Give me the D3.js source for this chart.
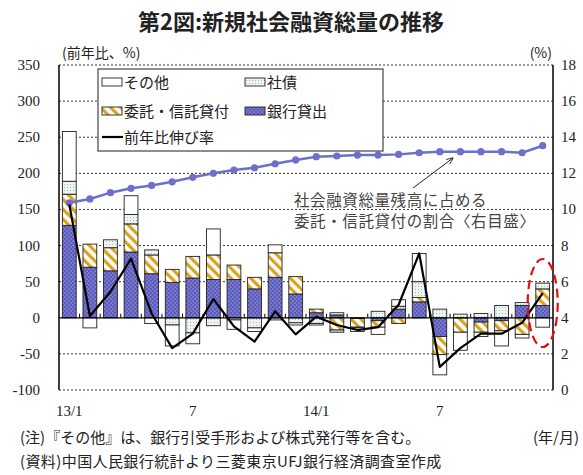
<!DOCTYPE html>
<html>
<head>
<meta charset="utf-8">
<script src="https://cdn.jsdelivr.net/npm/d3@7"></script>
<style>
  body { margin: 0; background: #fff; }
  text { font-family: "Noto Sans CJK JP", "Noto Sans", sans-serif; fill: #222; }
  text.num { font-family: "Liberation Serif", "DejaVu Serif", serif; }
</style>
</head>
<body>
<div id="chart"></div>
<script>
// months 2013/1 - 2014/12
const months = ["13/1","13/2","13/3","13/4","13/5","13/6","13/7","13/8","13/9","13/10","13/11","13/12",
                "14/1","14/2","14/3","14/4","14/5","14/6","14/7","14/8","14/9","14/10","14/11","14/12"];
const monthLabels = {"13/1": "13/1", "13/7": "7", "14/1": "14/1", "14/7": "7"};

// contributions to yoy growth (%pt)
const bank    = [128, 70, 65, 91, 61, 49, 55, 53, 53, 40, 56, 33, 7, 4, -1, -4, 12, 22, -26, 0, -6, -4, 17, 17];
const entrust = [43, 32, 32, 39, 26, 18, 30, 34, 20, 16, 34, 24, 5, -17, -12, -9, -8, 6, -25, -20, -14, -14, -23, 23];
const bond    = [18, 0, 11, 13, 7, -10, -21, -11, -3, -14, -3, -7, -8, -3, -1, 9, 4, 22, 12, 5, 6, 17, 4, 8];
const other   = [69, -14, 0, 26, -8, -29, -15, 36, -13, -5, 11, -3, -2, 3, -5, -10, 9, 39, -28, -25, -6, -21, -5, -13];

// yoy growth (%)
const growth = [157, 2.5, 36, 82, 6, -42, -22, 26, -12, -33, 9, -23, 1.5, -10, -17, -13, 18, 89, -68, -42, -22, -22, -7, 34];
// share of entrusted/trust loans in outstanding stock (%, right axis)
const share = [10.37, 10.58, 10.93, 11.17, 11.33, 11.53, 11.78, 12.0, 12.18, 12.31, 12.53, 12.74,
               12.92, 12.96, 13.01, 13.01, 13.05, 13.14, 13.2, 13.2, 13.2, 13.2, 13.14, 13.53];

const leftTicks = [350, 300, 250, 200, 150, 100, 50, 0, -50, -100];
const rightTicks = [18, 16, 14, 12, 10, 8, 6, 4, 2, 0];

const svg = d3.select("#chart").append("svg")
  .attr("width", 583)
  .attr("height", 475);

const plot = { left: 59, right: 553, top: 65, bottom: 390 };

const y = d3.scaleLinear().domain([-100, 350]).range([plot.bottom, plot.top]);
const yR = d3.scaleLinear().domain([0, 18]).range([plot.bottom, plot.top]);
const x = d3.scaleBand().domain(months)
  .range([plot.left, plot.right])
  .paddingInner(0.33).paddingOuter(0.165);

// patterns
const defs = svg.append("defs");

const pBank = defs.append("pattern").attr("id", "pBank")
  .attr("patternUnits", "userSpaceOnUse").attr("width", 4).attr("height", 4);
pBank.append("rect").attr("width", 4).attr("height", 4).attr("fill", "#5b5bbd");
pBank.append("circle").attr("cx", 1).attr("cy", 1).attr("r", 0.6).attr("fill", "#dcdcf5");
pBank.append("circle").attr("cx", 3).attr("cy", 3).attr("r", 0.6).attr("fill", "#dcdcf5");

const pEnt = defs.append("pattern").attr("id", "pEnt")
  .attr("patternUnits", "userSpaceOnUse").attr("width", 7).attr("height", 7)
  .attr("patternTransform", "rotate(-45)");
pEnt.append("rect").attr("width", 7).attr("height", 7).attr("fill", "#fff");
pEnt.append("rect").attr("width", 3.2).attr("height", 7).attr("fill", "#d9a21c");

const pBond = defs.append("pattern").attr("id", "pBond")
  .attr("patternUnits", "userSpaceOnUse").attr("width", 3).attr("height", 3);
pBond.append("rect").attr("width", 3).attr("height", 3).attr("fill", "#eef5f0");
pBond.append("rect").attr("x", 1).attr("y", 1).attr("width", 1).attr("height", 1).attr("fill", "#9fc0ad");

const fills = { bank: "url(#pBank)", entrust: "url(#pEnt)", bond: "url(#pBond)", other: "#fff" };

// title
svg.append("text")
  .attr("x", 291).attr("y", 30)
  .attr("text-anchor", "middle")
  .style("font-size", "22px").style("font-weight", "bold")
  .text("第2図:新規社会融資総量の推移");

// axis units
svg.append("text").attr("x", 62).attr("y", 58)
  .style("font-size", "14px").text("(前年比、%)");
svg.append("text").attr("x", 552).attr("y", 58)
  .attr("text-anchor", "end")
  .style("font-size", "14px").text("(%)");

// gridlines
svg.append("g").attr("class", "grid")
  .selectAll("line")
    .data(leftTicks.filter((d) => d !== 0)).enter()
  .append("line")
    .attr("x1", plot.left).attr("x2", plot.right)
    .attr("y1", (d) => y(d)).attr("y2", (d) => y(d))
    .attr("stroke", "#333").attr("stroke-width", 1)
    .attr("stroke-dasharray", "2,2");

// tick labels
svg.append("g")
  .selectAll("text")
    .data(leftTicks).enter()
  .append("text")
    .attr("class", "num")
    .attr("x", 40).attr("y", (d) => y(d) + 5)
    .attr("text-anchor", "end")
    .style("font-size", "15px")
    .text((d) => d);

svg.append("g")
  .selectAll("text")
    .data(rightTicks).enter()
  .append("text")
    .attr("class", "num")
    .attr("x", 561).attr("y", (d) => yR(d) + 5)
    .style("font-size", "15px")
    .text((d) => d);

// stacked bars
const rows = months.map((m, i) => ({
  month: m, bank: bank[i], entrust: entrust[i], bond: bond[i], other: other[i]
}));
const keys = ["bank", "entrust", "bond", "other"];
const series = d3.stack().keys(keys).offset(d3.stackOffsetDiverging)(rows);

svg.append("g").attr("class", "bars")
  .selectAll("g")
    .data(series).enter()
  .append("g")
    .attr("fill", (d) => fills[d.key])
  .selectAll("rect")
    .data((d) => d.filter((p) => p[1] !== p[0])).enter()
  .append("rect")
    .attr("x", (d) => x(d.data.month))
    .attr("width", x.bandwidth())
    .attr("y", (d) => y(Math.max(d[0], d[1])))
    .attr("height", (d) => Math.abs(y(d[0]) - y(d[1])))
    .attr("stroke", "#222").attr("stroke-width", 0.9);

// zero line + month ticks
svg.append("line")
  .attr("x1", plot.left).attr("x2", plot.right)
  .attr("y1", y(0)).attr("y2", y(0))
  .attr("stroke", "#000").attr("stroke-width", 1.2);

svg.append("g")
  .selectAll("line")
    .data(months.slice(1)).enter()
  .append("line")
    .attr("x1", (d) => x(d) - x.step() * x.paddingInner() / 2)
    .attr("x2", (d) => x(d) - x.step() * x.paddingInner() / 2)
    .attr("y1", y(0)).attr("y2", y(0) - 4)
    .attr("stroke", "#000");

// axes frame
svg.append("line").attr("x1", plot.left).attr("x2", plot.left)
  .attr("y1", plot.top).attr("y2", plot.bottom).attr("stroke", "#000").attr("stroke-width", 1.5);
svg.append("line").attr("x1", plot.right).attr("x2", plot.right)
  .attr("y1", plot.top).attr("y2", plot.bottom).attr("stroke", "#000").attr("stroke-width", 1.5);

// month labels
svg.append("g")
  .selectAll("text")
    .data(months.filter((m) => monthLabels[m])).enter()
  .append("text")
    .attr("class", "num")
    .attr("x", (d) => x(d) + x.bandwidth() / 2)
    .attr("y", 416)
    .attr("text-anchor", "middle")
    .style("font-size", "15px")
    .text((d) => monthLabels[d]);

// share line (right axis)
svg.append("path")
  .datum(share)
  .attr("fill", "none")
  .attr("stroke", "#6e6ecb").attr("stroke-width", 2.5)
  .attr("d", d3.line()
    .x((d, i) => x(months[i]) + x.bandwidth() / 2)
    .y((d) => yR(d)));

svg.append("g")
  .selectAll("circle")
    .data(share).enter()
  .append("circle")
    .attr("cx", (d, i) => x(months[i]) + x.bandwidth() / 2)
    .attr("cy", (d) => yR(d))
    .attr("r", 3.6)
    .attr("fill", "#6e6ecb");

// growth line (left axis)
svg.append("path")
  .datum(growth)
  .attr("fill", "none")
  .attr("stroke", "#000").attr("stroke-width", 2.2)
  .attr("stroke-linejoin", "round")
  .attr("d", d3.line()
    .x((d, i) => x(months[i]) + x.bandwidth() / 2)
    .y((d) => y(d)));

// legend
const legend = svg.append("g").attr("class", "legend");
legend.append("rect")
  .attr("x", 98).attr("y", 69).attr("width", 285).attr("height", 82)
  .attr("fill", "#fff").attr("stroke", "#444").attr("stroke-width", 1.2);

const legendItems = [
  { key: "other", label: "その他", lx: 102, ly: 82 },
  { key: "bond", label: "社債", lx: 245, ly: 82 },
  { key: "entrust", label: "委託・信託貸付", lx: 102, ly: 111 },
  { key: "bank", label: "銀行貸出", lx: 245, ly: 111 },
  { key: "line", label: "前年比伸び率", lx: 102, ly: 137 }
];

const marks = legend.selectAll(".item")
    .data(legendItems).enter()
  .append("g")
    .attr("class", "item")
    .attr("transform", (d) => `translate(${d.lx},${d.ly})`);

marks.filter((d) => d.key !== "line")
  .append("rect")
    .attr("x", 0).attr("y", -4).attr("width", 20).attr("height", 8)
    .attr("fill", (d) => fills[d.key])
    .attr("stroke", "#222").attr("stroke-width", 0.9);

marks.filter((d) => d.key === "line")
  .append("line")
    .attr("x1", 0).attr("x2", 21).attr("y1", 0).attr("y2", 0)
    .attr("stroke", "#000").attr("stroke-width", 2.2);

marks.append("text")
  .attr("x", 22).attr("y", 5.5)
  .style("font-size", "15px")
  .text((d) => d.label);

// annotation
svg.append("text").attr("x", 294).attr("y", 206)
  .style("font-size", "15.5px").style("fill", "#444").style("letter-spacing", "0.6px")
  .text("社会融資総量残高に占める");
svg.append("text").attr("x", 294).attr("y", 227)
  .style("font-size", "15.5px").style("fill", "#444").style("letter-spacing", "0.6px")
  .text("委託・信託貸付の割合〈右目盛〉");

defs.append("marker").attr("id", "arrow")
  .attr("viewBox", "0 0 10 10").attr("refX", 9).attr("refY", 5)
  .attr("markerWidth", 7).attr("markerHeight", 7).attr("orient", "auto")
  .append("path").attr("d", "M0,1 L10,5 L0,9").attr("fill", "none").attr("stroke", "#222").attr("stroke-width", 1.2);

svg.append("line")
  .attr("x1", 413).attr("y1", 188).attr("x2", 453).attr("y2", 158)
  .attr("stroke", "#222").attr("stroke-width", 1)
  .attr("marker-end", "url(#arrow)");

// red dashed ellipse around latest month
svg.append("ellipse")
  .attr("cx", x("14/12") + x.bandwidth() / 2).attr("cy", 303)
  .attr("rx", 15).attr("ry", 44)
  .attr("fill", "none")
  .attr("stroke", "#e01010").attr("stroke-width", 2.2)
  .attr("stroke-dasharray", "9,5");

// notes
svg.append("text").attr("x", 20).attr("y", 443)
  .style("font-size", "15px")
  .text("(注)『その他』は、銀行引受手形および株式発行等を含む。");
svg.append("text").attr("x", 579).attr("y", 443)
  .attr("text-anchor", "end")
  .style("font-size", "15px")
  .text("(年/月)");
svg.append("text").attr("x", 20).attr("y", 467)
  .style("font-size", "15px").style("letter-spacing", "0.4px")
  .text("(資料)中国人民銀行統計より三菱東京UFJ銀行経済調査室作成");
</script>
</body>
</html>
